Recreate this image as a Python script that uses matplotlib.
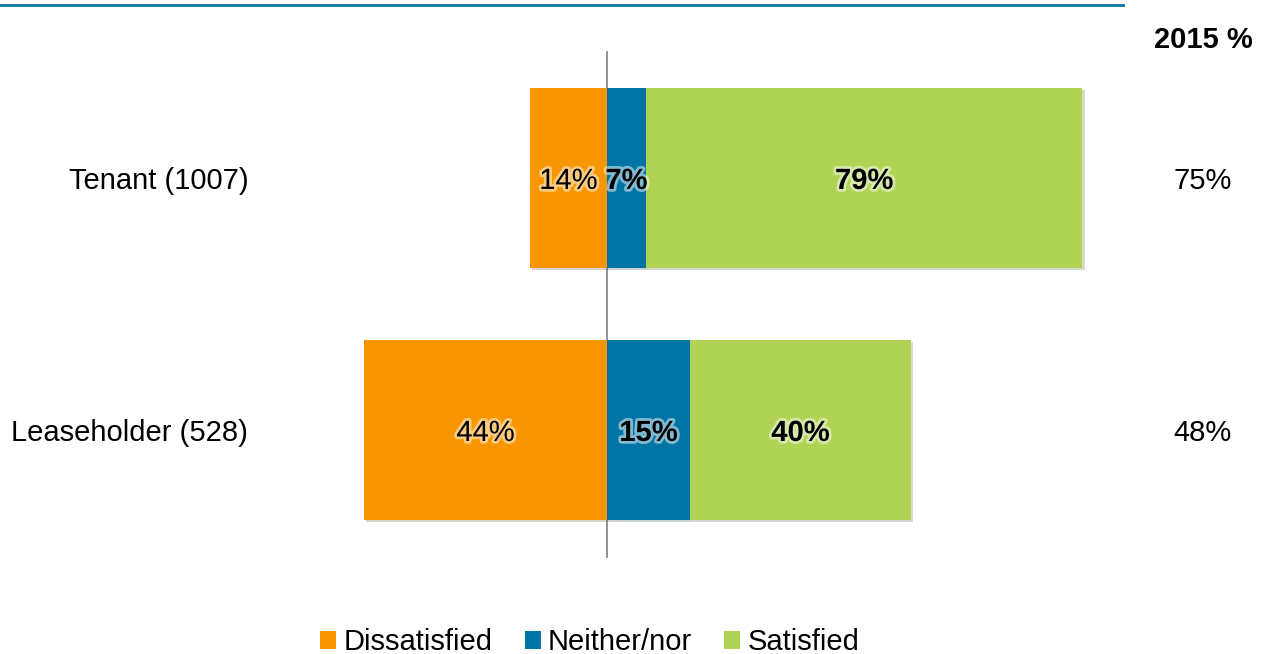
import matplotlib.pyplot as plt
import matplotlib.patheffects as pe
import numpy as np

plt.rcParams['font.family'] = ['Liberation Sans', 'DejaVu Sans']

groups = ['Tenant (1007)', 'Leaseholder (528)']
dissatisfied = [14, 44]
neither = [7, 15]
satisfied = [79, 40]
prev_2015 = ['75%', '48%']

c_dis = '#F79600'
c_nei = '#0074A5'
c_sat = '#B0D355'

fig = plt.figure(figsize=(12.66, 6.54), dpi=100)
ax = fig.add_axes([0, 0, 1, 1])

y = np.arange(len(groups))
h = 0.714
fs = 21

dis = np.array(dissatisfied)
nei = np.array(neither)
sat = np.array(satisfied)

b1 = ax.barh(y, -dis, height=h, color=c_dis, label='Dissatisfied')
b2 = ax.barh(y, nei, height=h, color=c_nei, label='Neither/nor')
b3 = ax.barh(y, sat, left=nei, height=h, color=c_sat, label='Satisfied')

ax.legend(loc='center', bbox_to_anchor=(0.466, 0.018), ncol=3, frameon=False,
          fontsize=fs, handlelength=0.55, handleheight=0.55, handletextpad=0.25,
          columnspacing=1.1, borderpad=0)

# soft shadow on the bars (after legend so handles stay flat)
shadow = [pe.SimplePatchShadow(offset=(1.5, -1.5), alpha=0.2), pe.Normal()]
for bars in (b1, b2, b3):
    for p in bars:
        p.set_path_effects(shadow)

glow = [pe.withStroke(linewidth=4, foreground='white', alpha=0.5)]
va = 'center_baseline'
for i in range(len(groups)):
    ax.text(-dis[i] / 2, y[i], f'{dis[i]}%', ha='center', va=va,
            fontsize=fs, color='black', path_effects=glow)
    ax.text(nei[i] / 2, y[i], f'{nei[i]}%', ha='center', va=va,
            fontsize=fs, fontweight='bold', color='black', path_effects=glow)
    ax.text(nei[i] + sat[i] / 2, y[i], f'{sat[i]}%', ha='center', va=va,
            fontsize=fs, fontweight='bold', color='black', path_effects=glow)
    ax.text(-64.9, y[i], groups[i], ha='right', va=va, fontsize=fs)
    ax.text(107.8, y[i], prev_2015[i], ha='center', va=va, fontsize=fs)

ax.text(107.8, -0.56, '2015 %', ha='center', va=va, fontsize=fs,
        fontweight='bold')

# zero line
ax.plot([0, 0], [-0.5, 1.504], color='#808080', lw=1.2, zorder=0.5)
# top rule
ax.plot([-109.8, 93.3], [-0.685, -0.685], color='#0075A8', lw=2, clip_on=False)

ax.set_xlim(-109.8, 119.2)
ax.set_ylim(1.889, -0.706)
ax.axis('off')

fig.savefig('out.png', dpi=100)
